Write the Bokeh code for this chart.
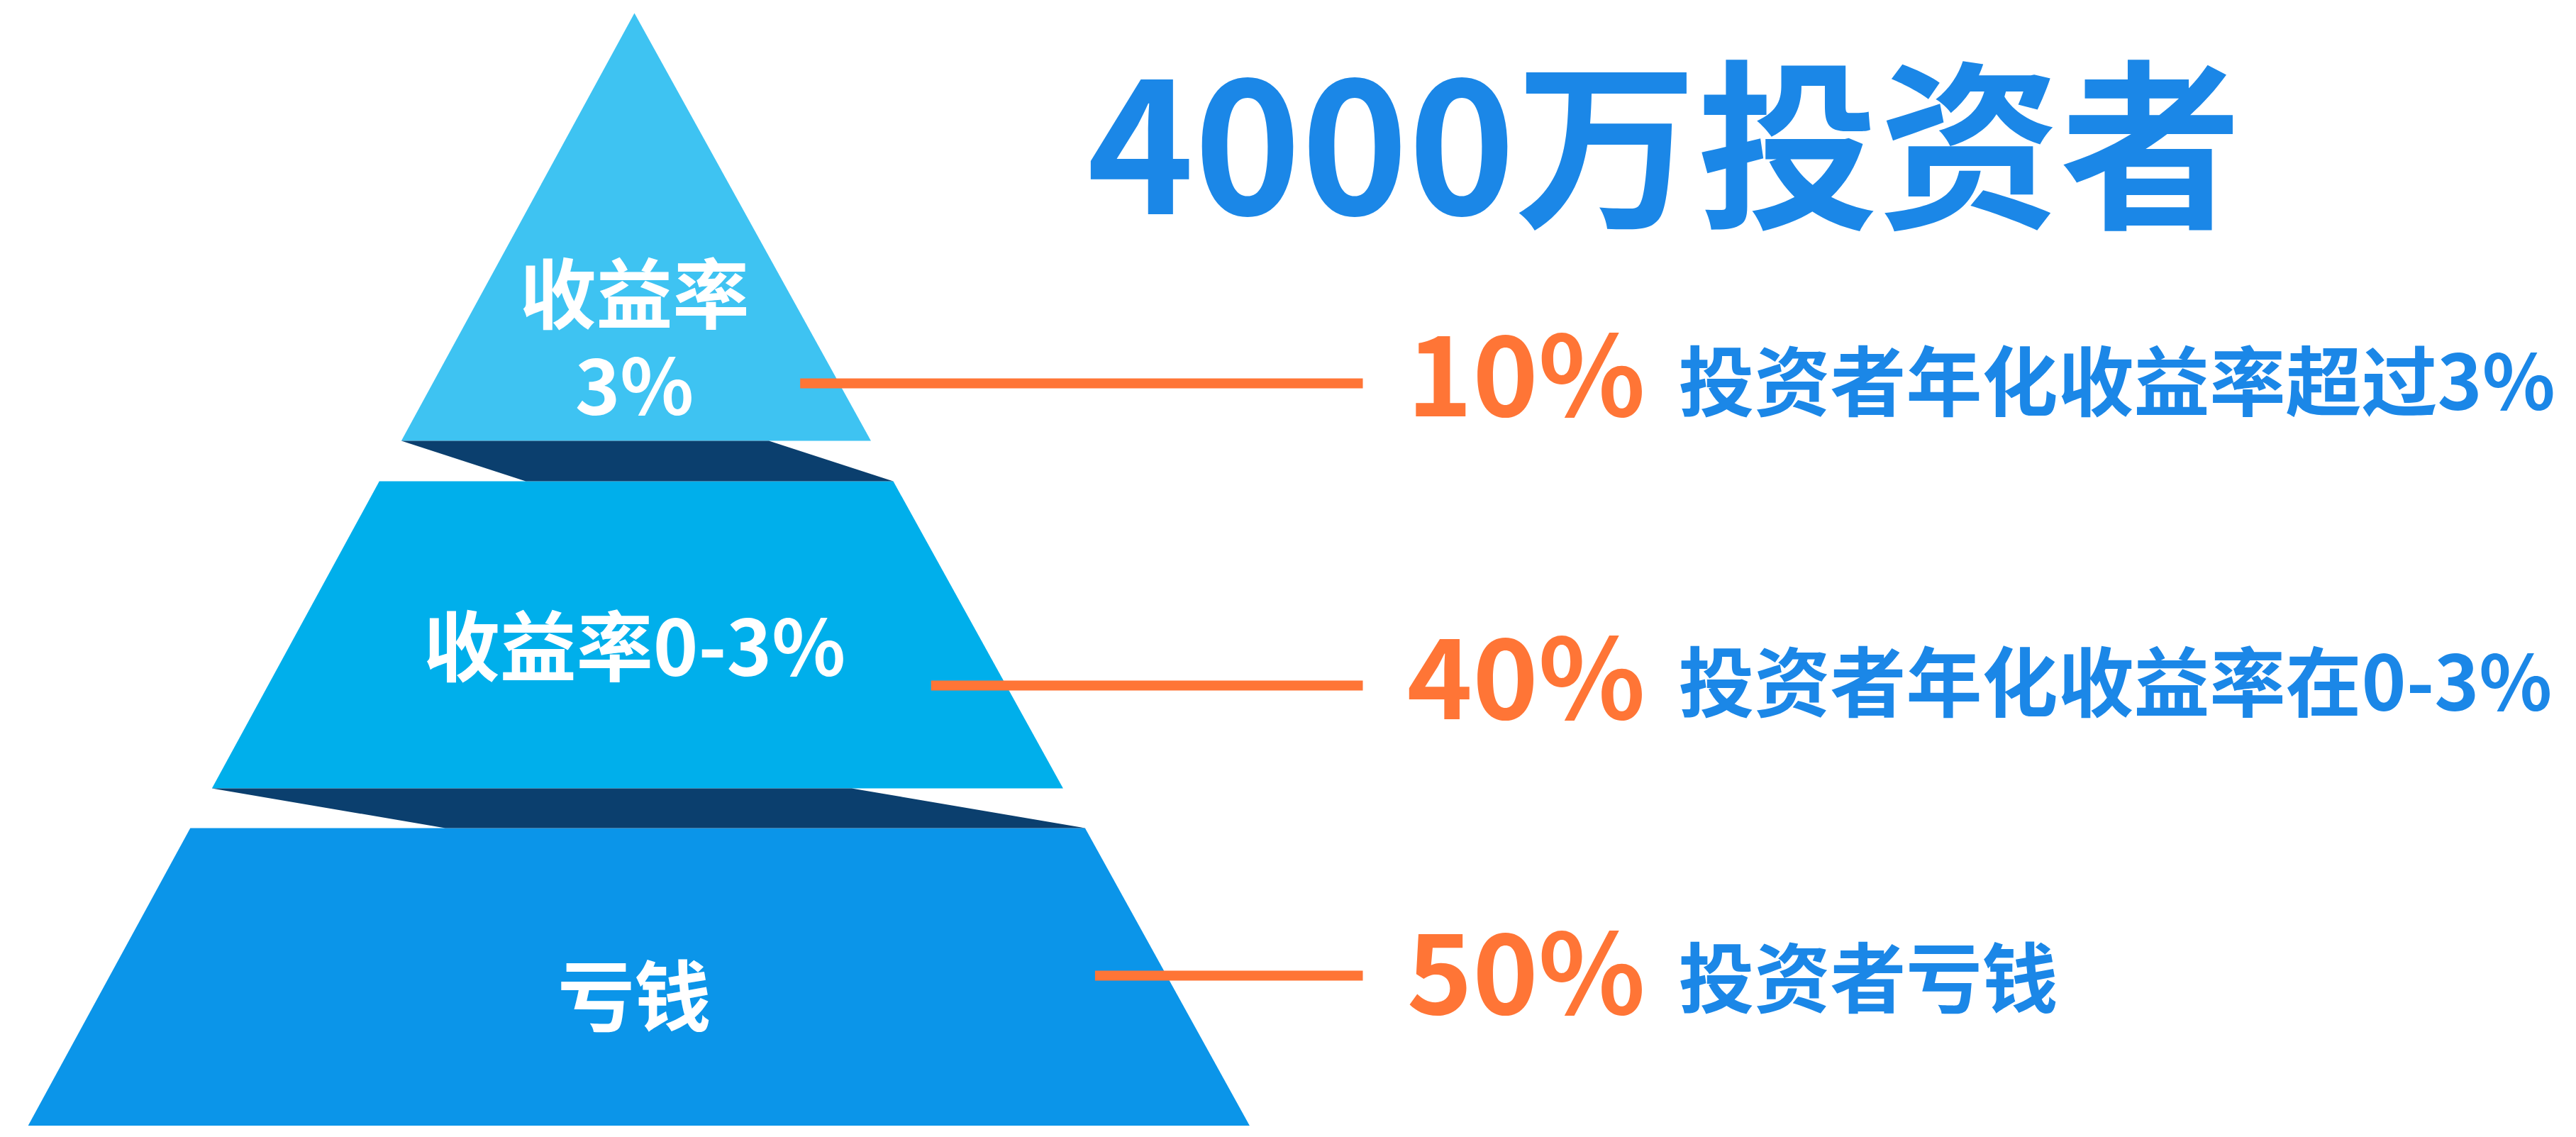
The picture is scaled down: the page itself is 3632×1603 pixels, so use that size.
from bokeh.plotting import figure
from bokeh.models import Range1d
from bokeh.embed import file_html
from bokeh.resources import INLINE
from bokeh.core.properties import value

# ---------------- data ----------------
title_text = "4000万投资者"
shares = [10, 40, 50]
pct_labels = [f"{s}%" for s in shares]
layer_labels = ["收益率\n3%", "收益率0-3%", "亏钱"]
descriptions = ["投资者年化收益率超过3%", "投资者年化收益率在0-3%", "投资者亏钱"]

# ---------------- style / layout ----------------
layer_colors = ["#3EC3F2", "#00AFEB", "#0B95E9"]
fold_color = "#0B3F6E"
orange = "#FF7536"
blue_text = "#1B87E7"
FONT = "Noto Sans CJK SC"

W, H = 3616, 1587          # figure size
OX, OY = 0, 0              # data origin of the page
apex_x, apex_y = 894, 18
slope_l, slope_r = 0.545, 0.553
layer_tops = [18, 678, 1167]
layer_bottoms = [621, 1111, 1610]
fold_frac = 0.715
leader_y = [540, 966, 1375]
leader_inset = [55, 106, 101]
leader_end = 1921
pct_x, desc_x = 1983, 2366
pct_center_y = [518, 945, 1361]
desc_center_y = [531, 955, 1372]
label_line_y = [[407, 536], [904], [1397]]
title_x, title_center_y = 1532, 190


def left_x(y):
    return apex_x - slope_l * (y - apex_y)


def right_x(y):
    return apex_x + slope_r * (y - apex_y)


p = figure(width=W, height=H, output_backend="svg", toolbar_location=None,
           x_range=Range1d(OX, OX + W), y_range=Range1d(OY + H, OY),
           min_border=0)
p.axis.visible = False
p.grid.visible = False
p.outline_line_color = None
p.background_fill_color = "white"
p.border_fill_color = "white"

# pyramid layers
xs, ys = [], []
for t, b in zip(layer_tops, layer_bottoms):
    xs.append([left_x(t), right_x(t), right_x(b), left_x(b)])
    ys.append([t, t, b, b])
p.patches(xs=xs, ys=ys, fill_color=layer_colors, line_color=None)

# folds between layers
fx, fy = [], []
for i in range(len(layer_tops) - 1):
    top = layer_bottoms[i]
    bot = layer_tops[i + 1]
    w = fold_frac * (right_x(bot) - left_x(bot))
    tl = left_x(top)
    br = right_x(bot)
    fx.append([tl, tl + w, br, br - w])
    fy.append([top, top, bot, bot])
p.patches(xs=fx, ys=fy, fill_color=fold_color, line_color=None)

# leader lines
x0s = [right_x(y) - d for y, d in zip(leader_y, leader_inset)]
p.segment(x0=x0s, y0=leader_y, x1=[leader_end] * 3, y1=leader_y,
          line_color=orange, line_width=14, line_cap="butt")

# labels inside pyramid (one text per line)
lab_x, lab_y, lab_t = [], [], []
for label, ys_ in zip(layer_labels, label_line_y):
    for line, yy in zip(label.split("\n"), ys_):
        lab_x.append(apex_x)
        lab_y.append(yy)
        lab_t.append(line)
p.text(x=lab_x, y=lab_y, text=lab_t,
       text_font=value(FONT), text_font_style="bold", text_font_size=value("108px"),
       text_color="white", text_align="center", text_baseline="middle")

# percentages
p.text(x=[pct_x] * 3, y=pct_center_y, text=pct_labels,
       text_font=value(FONT), text_font_style="bold", text_font_size=value("157px"),
       text_color=orange, text_align="left", text_baseline="middle")

# descriptions
p.text(x=[desc_x] * 3, y=desc_center_y, text=descriptions,
       text_font=value(FONT), text_font_style="bold", text_font_size=value("107px"),
       text_color=blue_text, text_align="left", text_baseline="middle")

# title
p.text(x=[title_x], y=[title_center_y], text=[title_text],
       text_font=value(FONT), text_font_style="bold", text_font_size=value("256px"),
       text_color=blue_text, text_align="left", text_baseline="middle")

open("out.html", "w").write(file_html(p, INLINE))
